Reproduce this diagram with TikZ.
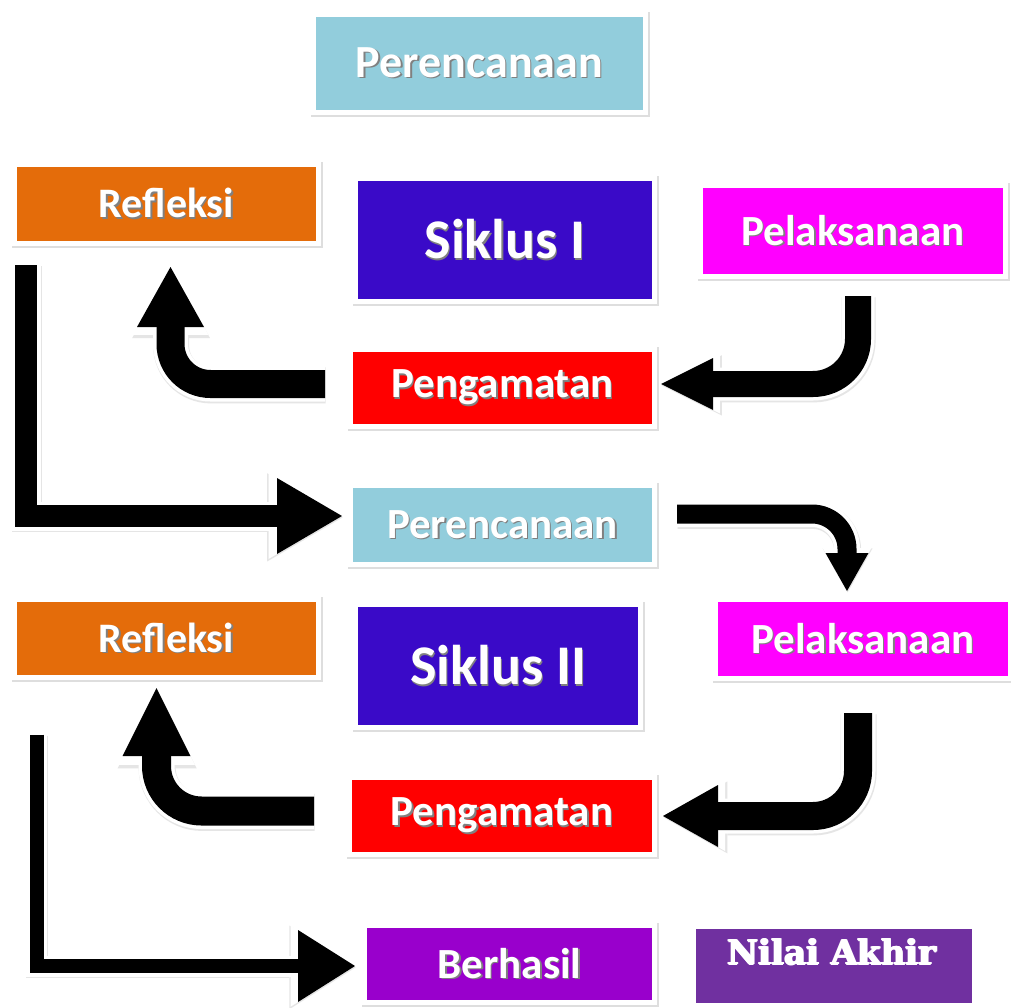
\documentclass[tikz,border=0pt]{standalone}
\usepackage{fontspec}
\newfontfamily\carl{Carlito}
\newfontfamily\djs{DejaVu Serif}
\usetikzlibrary{arrows.meta}
\definecolor{cPer}{RGB}{146,205,220}
\definecolor{cRef}{RGB}{228,108,10}
\definecolor{cSik}{RGB}{58,10,200}
\definecolor{cPel}{RGB}{255,0,255}
\definecolor{cPen}{RGB}{255,0,0}
\definecolor{cBer}{RGB}{153,0,204}
\definecolor{cNil}{RGB}{112,48,160}
\newcommand\shd[1]{\leavevmode\rlap{\kern1.3pt\raisebox{-1.5pt}{\color{black!50}#1}}{\color{white}#1}}
\newcommand\heavy[1]{\leavevmode\rlap{\kern0.9pt#1}\rlap{\kern1.8pt#1}\rlap{\raisebox{0.7pt}{\kern0.9pt#1}}\rlap{\raisebox{-0.5pt}{\kern0.9pt#1}}#1\kern1.8pt}
\tikzset{
  box/.style={rectangle, inner sep=0pt, fill=#1, draw=white, line width=5pt,
    preaction={draw=black!13, line width=7pt, transform canvas={shift={(0.6pt,-1.4pt)}}}},
  fs/.style={font=\carl\bfseries\fontsize{#1}{#1}\selectfont},
  barrow/.style n args={3}{
    preaction={draw=black!10, line width=#1+8pt,
      -{Triangle[length=#2 0 0, width=#3 0 0, line width=0pt 0 0, scale=1.16]},
      transform canvas={shift={(0.6pt,-1.4pt)}}},
    preaction={draw=white, line width=#1+7pt,
      -{Triangle[length=#2 0 0, width=#3 0 0, line width=0pt 0 0, scale=1.13]}},
    draw=black, line width=#1,
    -{Triangle[length=#2 0 0, width=#3 0 0, line width=0pt 0 0]}}
}
\begin{document}
\begin{tikzpicture}[x=1pt,y=-1pt]
\fill[white] (0,0) rectangle (1011,1008);
\useasboundingbox (0,0) rectangle (1011,1008);

\node[box=cPer, minimum width=332pt, minimum height=98pt, fs=46] (per1) at (479.5,63.5) {\shd{Perencanaan}};
\node[box=cRef, minimum width=304pt, minimum height=79pt, fs=42] (ref1) at (166.5,204) {\shd{Refleksi}};
\node[box=cSik, minimum width=299pt, minimum height=123pt, fs=56] (sik1) at (505,240) {\shd{Siklus I}};
\node[box=cPel, minimum width=305pt, minimum height=91pt, fs=43] (pel1) at (853,231) {\shd{Pelaksanaan}};
\node[box=cPen, minimum width=304pt, minimum height=77pt, fs=43] (pen1) at (502.5,388) {\shd{Pengamatan}};
\node[box=cPer, minimum width=304pt, minimum height=79pt, fs=43] (per2) at (502.5,525) {\shd{Perencanaan}};
\node[box=cRef, minimum width=304pt, minimum height=78pt, fs=42] (ref2) at (166.5,638.5) {\shd{Refleksi}};
\node[box=cSik, minimum width=285pt, minimum height=123pt, fs=56] (sik2) at (498,666) {\shd{Siklus II}};
\node[box=cPel, minimum width=295pt, minimum height=79pt, fs=43] (pel2) at (863,639) {\shd{Pelaksanaan}};
\node[box=cPen, minimum width=305pt, minimum height=77pt, fs=43] (pen2) at (502,816) {\shd{Pengamatan}};
\node[box=cBer, minimum width=290pt, minimum height=77pt, fs=43] (ber) at (509.5,964) {\shd{Berhasil}};
\node[fill=cNil, inner sep=0pt, minimum width=276pt, minimum height=74pt] (nilbox) at (834,966) {};
\node[font=\djs\bfseries\fontsize{34}{34}\selectfont, text=white] (nil) at ([xshift=-2pt,yshift=14pt]nilbox.center) {\heavy{Nilai Akhir}};

\draw[barrow={28pt}{60pt}{67pt}, rounded corners=40pt] ([xshift=-23pt,yshift=4pt]pen1.west) -| ([xshift=4pt,yshift=-21pt]ref1.south);
\draw[barrow={26pt}{52pt}{52pt}, rounded corners=45pt] ([xshift=5pt,yshift=-17pt]pel1.south) |- ([xshift=4pt,yshift=4pt]pen1.east);
\draw[barrow={22pt}{65pt}{76pt}] ([xshift=14pt,yshift=-19pt]ref1.south west) |- ([xshift=-6pt,yshift=9pt]per2.west);
\draw[barrow={19pt}{38pt}{43pt}, rounded corners=35pt] ([xshift=20pt,yshift=11pt]per2.east) -| ([xshift=-16pt,yshift=6pt]pel2.north);
\draw[barrow={28pt}{55pt}{62pt}, rounded corners=45pt] ([xshift=-5pt,yshift=-32pt]pel2.south) |- ([xshift=6pt]pen2.east);
\draw[barrow={29pt}{68pt}{68pt}, rounded corners=45pt] ([xshift=-33pt,yshift=5pt]pen2.west) -| ([xshift=-10pt,yshift=-8pt]ref2.south);
\draw[barrow={14pt}{57pt}{72pt}] ([xshift=24.5pt,yshift=-54.5pt]ref2.south west) |- ([xshift=-7pt,yshift=-2pt]ber.west);
\end{tikzpicture}
\end{document}
